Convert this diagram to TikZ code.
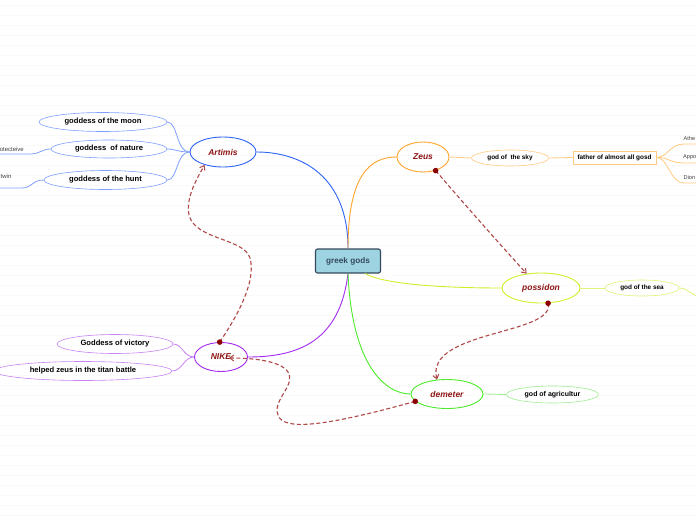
\documentclass[tikz,border=0pt]{standalone}
\usepackage{fontspec}
\setmainfont{Liberation Sans}
\usetikzlibrary{arrows.meta,shapes.geometric}
\definecolor{artcol}{HTML}{2D64F5}
\definecolor{artlight}{HTML}{7FA0FF}
\definecolor{zeuscol}{HTML}{FFA42A}
\definecolor{zeuslight}{HTML}{FFCB80}
\definecolor{poscol}{HTML}{D2EE2A}
\definecolor{poslight}{HTML}{E2F27A}
\definecolor{nikecol}{HTML}{A42AF0}
\definecolor{nikelight}{HTML}{C884F4}
\definecolor{demcol}{HTML}{4CEA2A}
\definecolor{demlight}{HTML}{9EEE8E}
\definecolor{centerfill}{HTML}{9ED4E2}
\definecolor{centerdraw}{HTML}{34495A}
\definecolor{godtext}{HTML}{8E1414}
\definecolor{relcol}{HTML}{B04848}
\definecolor{dotcol}{HTML}{8B0000}
\definecolor{bgline}{HTML}{F9F9F9}
\tikzset{
  godnode/.style={ellipse, draw, line width=0.9pt, inner sep=0pt, text=godtext,
    font=\fontsize{8.5}{10}\selectfont\bfseries\itshape},
  leafnode/.style={ellipse, draw, line width=0.6pt, inner sep=0pt, text=black,
    font=\fontsize{7.6}{9}\selectfont\bfseries},
  tinytext/.style={inner sep=0pt, text=black!75, font=\fontsize{6}{7}\selectfont},
  rel/.style={draw=relcol, line width=1.1pt, dash pattern=on 4pt off 2.5pt,
    -{Straight Barb[length=4pt,width=6pt,line width=1pt]}},
  reldot/.style={fill=dotcol},
}
\begin{document}
\begin{tikzpicture}[x=1pt,y=-1pt]
\useasboundingbox (0,0) rectangle (696,520);
\clip (0,0) rectangle (696,520);
\fill[white] (0,0) rectangle (696,520);
\foreach \yy in {5,15,...,515} \draw[bgline, line width=0.7pt] (0,\yy) -- (696,\yy);

% central node
\node[draw=centerdraw, fill=centerfill, line width=1.1pt, rounded corners=2pt,
  minimum width=65, minimum height=24, inner sep=0pt, text=centerdraw,
  font=\fontsize{8.2}{9}\selectfont\bfseries] (gg) at (348,261) {greek gods};

% main god nodes
\node[godnode, draw=zeuscol, minimum width=52, minimum height=30] (zeus) at (423,157) {Zeus};
\node[godnode, draw=artcol, minimum width=66, minimum height=30] (artimis) at (223,152) {Artimis};
\node[godnode, draw=poscol, minimum width=78, minimum height=30] (possidon) at (541,288) {possidon};
\node[godnode, draw=nikecol, minimum width=53, minimum height=29] (nike) at (221,357) {NIKE};
\node[godnode, draw=demcol, minimum width=72, minimum height=29] (demeter) at (447,394) {demeter};

% central connectors
\draw[artcol, line width=0.9pt] (gg.north) .. controls (348,175) and (300,152) .. (artimis.east);
\draw[zeuscol, line width=0.9pt] (gg.north) .. controls (348,175) and (370,157) .. (zeus.west);
\draw[poscol, line width=0.9pt] ([xshift=17]gg.south) .. controls (385,285) and (450,288) .. (possidon.west);
\draw[nikecol, line width=0.9pt] (gg.south) .. controls (340,340) and (300,357) .. (nike.east);
\draw[demcol, line width=0.9pt] (gg.south) .. controls (352,365) and (385,394) .. (demeter.west);

% Zeus branch
\node[leafnode, draw=zeuslight, minimum width=77, minimum height=16,
  font=\fontsize{6.4}{7.5}\selectfont\bfseries] (sky) at (510,158) {god of\ \ the sky};
\node[draw=zeuslight, line width=0.8pt, minimum width=83, minimum height=13, inner sep=0pt,
  font=\fontsize{6.4}{7.5}\selectfont\bfseries] (father) at (614.5,157.5) {father of almost all gosd};
\draw[zeuslight, line width=0.8pt] (zeus.east) -- (sky.west);
\draw[zeuslight, line width=0.8pt] (sky.east) -- (father.west);
\coordinate (athe) at (684,144);
\coordinate (appo) at (684,163);
\coordinate (dion) at (684,183);
\draw[zeuslight, line width=0.8pt] (father.east) .. controls (668,157) and (670,144) .. (athe) -- (700,144);
\draw[zeuslight, line width=0.8pt] (father.east) .. controls (668,157) and (670,163) .. (appo) -- (700,163);
\draw[zeuslight, line width=0.8pt] (father.east) .. controls (668,157) and (670,183) .. (dion) -- (700,183);
\node[tinytext, anchor=south west, font=\fontsize{5.6}{6.5}\selectfont] (atheT) at (683.5,141) {Athe};
\node[tinytext, anchor=south west, font=\fontsize{5.6}{6.5}\selectfont] (appoT) at (683,160) {Appo};
\node[tinytext, anchor=south west, font=\fontsize{5.6}{6.5}\selectfont] (dionT) at (683.5,180) {Dion};

% Artimis branch
\node[leafnode, draw=artlight, minimum width=128, minimum height=19] (moon) at (103,122) {goddess of the moon};
\node[leafnode, draw=artlight, minimum width=116, minimum height=18] (nature) at (109,149) {goddess\ \ of nature};
\node[leafnode, draw=artlight, minimum width=123, minimum height=19] (hunt) at (105.5,180) {goddess of the hunt};
\draw[artlight, line width=0.8pt] (artimis.west) .. controls (176,152) and (178,122) .. (moon.east);
\draw[artlight, line width=0.8pt] (artimis.west) .. controls (178,152) and (175,149) .. (nature.east);
\draw[artlight, line width=0.8pt] (artimis.west) .. controls (176,152) and (178,180) .. (hunt.east);
\coordinate (prot) at (30,154);
\coordinate (twin) at (22,188);
\draw[artlight, line width=0.8pt] (nature.west) .. controls (42,149) and (40,154) .. (prot) -- (-5,154);
\draw[artlight, line width=0.8pt] (hunt.west) .. controls (32,180) and (32,188) .. (twin) -- (-5,188);
\node[tinytext, anchor=south east] (protT) at (24,151.5) {otecteive};
\node[tinytext, anchor=south west] (twinT) at (0.5,178.5) {twin};

% Possidon branch
\node[leafnode, draw=poslight, minimum width=74, minimum height=16,
  font=\fontsize{6.4}{7.5}\selectfont\bfseries] (sea) at (642,288) {god of the sea};
\draw[poslight, line width=0.8pt] (possidon.east) -- (sea.west);
\draw[poslight, line width=0.8pt] (sea.east) .. controls (687,288) and (690,294) .. (700,297);

% NIKE branch
\node[leafnode, draw=nikelight, minimum width=116, minimum height=19] (victory) at (115,344) {Goddess of victory};
\node[leafnode, draw=nikelight, minimum width=178, minimum height=19] (titan) at (83,371) {helped zeus in the titan battle};
\draw[nikelight, line width=0.8pt] (nike.west) .. controls (184,357) and (182,344) .. (victory.east);
\draw[nikelight, line width=0.8pt] (nike.west) .. controls (184,357) and (182,371) .. (titan.east);

% Demeter branch
\node[leafnode, draw=demlight, minimum width=92, minimum height=17,
  font=\fontsize{7}{8}\selectfont\bfseries] (agri) at (552.5,394.5) {god of agricultur};
\draw[demlight, line width=0.8pt] (demeter.east) -- (agri.west);

% relationships
\coordinate (nikeend) at (229,358);
\draw[rel] (zeus.-47) .. controls (465,205) and (505,250) .. (possidon.135);
\draw[rel] (possidon.-65) .. controls (556,335) and (425,330) .. (demeter.125);
\draw[rel] (nike.95) .. controls (240,312) and (256,280) .. (250,258)
  .. controls (244,238) and (195,240) .. (189,215)
  .. controls (186,198) and (195,182) .. (artimis.-145);
\draw[rel] (demeter.193) .. controls (330,425) and (283,432) .. (278,415)
  .. controls (272,400) and (296,386) .. (288,372)
  .. controls (280,360) and (250,358) .. (nikeend);
\fill[reldot] (zeus.-47) circle (2.8);
\fill[reldot] (possidon.-65) circle (2.8);
\fill[reldot] (nike.95) circle (2.8);
\fill[reldot] (demeter.193) circle (2.8);
\end{tikzpicture}
\end{document}
